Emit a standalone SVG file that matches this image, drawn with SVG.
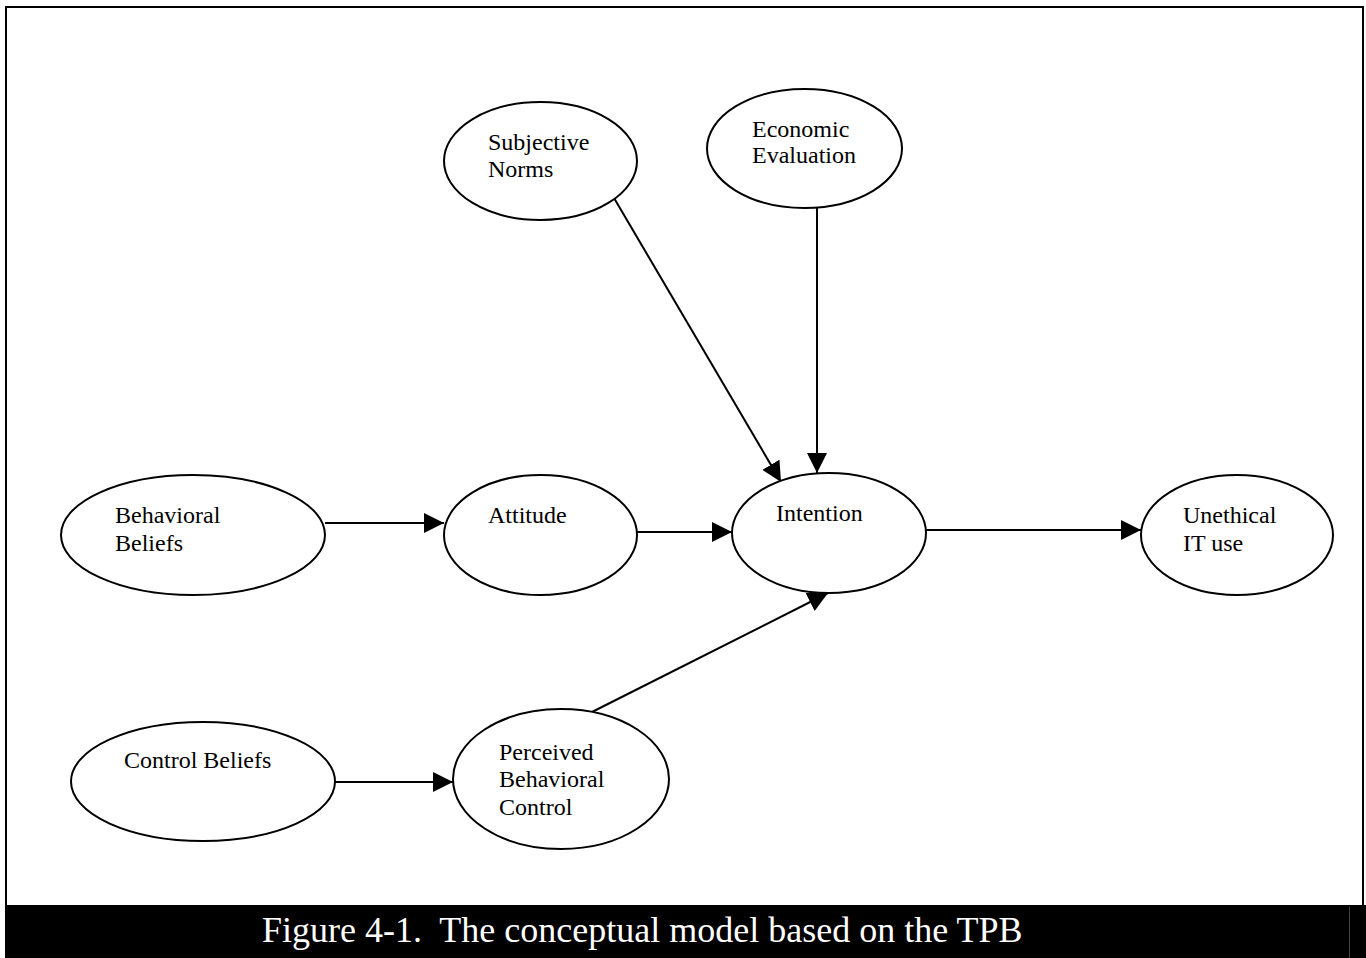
<svg xmlns="http://www.w3.org/2000/svg" width="1366" height="958" viewBox="0 0 1366 958">
<style>
.n ellipse{fill:#fff;stroke:#000;stroke-width:2}
.n text{font-family:"Liberation Serif","Times New Roman",serif;font-size:24px;fill:#000}
.c line{stroke:#000;stroke-width:2;fill:none}
.cap{font-family:"Liberation Serif","Times New Roman",serif;font-size:36px;fill:#fff;white-space:pre}
</style>
<defs>
<marker id="arr" markerWidth="20" markerHeight="20" refX="20" refY="10" orient="auto" markerUnits="userSpaceOnUse">
<path d="M0,0 L20,10 L0,20 z" fill="#000"/>
</marker>
</defs>
<rect x="0" y="0" width="1366" height="958" fill="#fff"/>
<rect x="6" y="7" width="1357" height="905" fill="none" stroke="#000" stroke-width="2"/>
<g class="c" id="connectors">
<line x1="325" y1="523" x2="444" y2="523" marker-end="url(#arr)"/>
<line x1="637" y1="532" x2="732" y2="532" marker-end="url(#arr)"/>
<line x1="614" y1="198" x2="781" y2="482" marker-end="url(#arr)"/>
<line x1="817" y1="208" x2="817" y2="473" marker-end="url(#arr)"/>
<line x1="590" y1="713" x2="828" y2="593" marker-end="url(#arr)"/>
<line x1="926" y1="530" x2="1141" y2="530" marker-end="url(#arr)"/>
<line x1="335" y1="782" x2="453" y2="782" marker-end="url(#arr)"/>
</g>
<g class="n" id="subjective-norms">
<ellipse cx="540.5" cy="161" rx="96.5" ry="59"/>
<text x="488" y="150">Subjective</text>
<text x="488" y="177">Norms</text>
</g>
<g class="n" id="economic-evaluation">
<ellipse cx="804.5" cy="148.5" rx="97.5" ry="59.5"/>
<text x="752" y="137">Economic</text>
<text x="752" y="163">Evaluation</text>
</g>
<g class="n" id="behavioral-beliefs">
<ellipse cx="193" cy="535" rx="132" ry="60"/>
<text x="115" y="523">Behavioral</text>
<text x="115" y="551">Beliefs</text>
</g>
<g class="n" id="attitude">
<ellipse cx="540.5" cy="535" rx="96.5" ry="60"/>
<text x="488" y="523">Attitude</text>
</g>
<g class="n" id="intention">
<ellipse cx="829" cy="533" rx="97" ry="60"/>
<text x="776" y="521">Intention</text>
</g>
<g class="n" id="unethical-it-use">
<ellipse cx="1237" cy="535" rx="96" ry="60"/>
<text x="1183" y="523">Unethical</text>
<text x="1183" y="551">IT use</text>
</g>
<g class="n" id="control-beliefs">
<ellipse cx="203" cy="781.5" rx="132" ry="59.5"/>
<text x="124" y="768">Control Beliefs</text>
</g>
<g class="n" id="perceived-behavioral-control">
<ellipse cx="561" cy="779" rx="108" ry="70"/>
<text x="499" y="760">Perceived</text>
<text x="499" y="787">Behavioral</text>
<text x="499" y="815">Control</text>
</g>
<g id="caption">
<rect x="5" y="905" width="1361" height="53" fill="#000"/>
<line x1="1349.5" y1="907" x2="1349.5" y2="958" stroke="#444" stroke-width="1"/>
<text class="cap" x="262" y="942">Figure 4-1.  The conceptual model based on the TPB</text>
</g>
</svg>
